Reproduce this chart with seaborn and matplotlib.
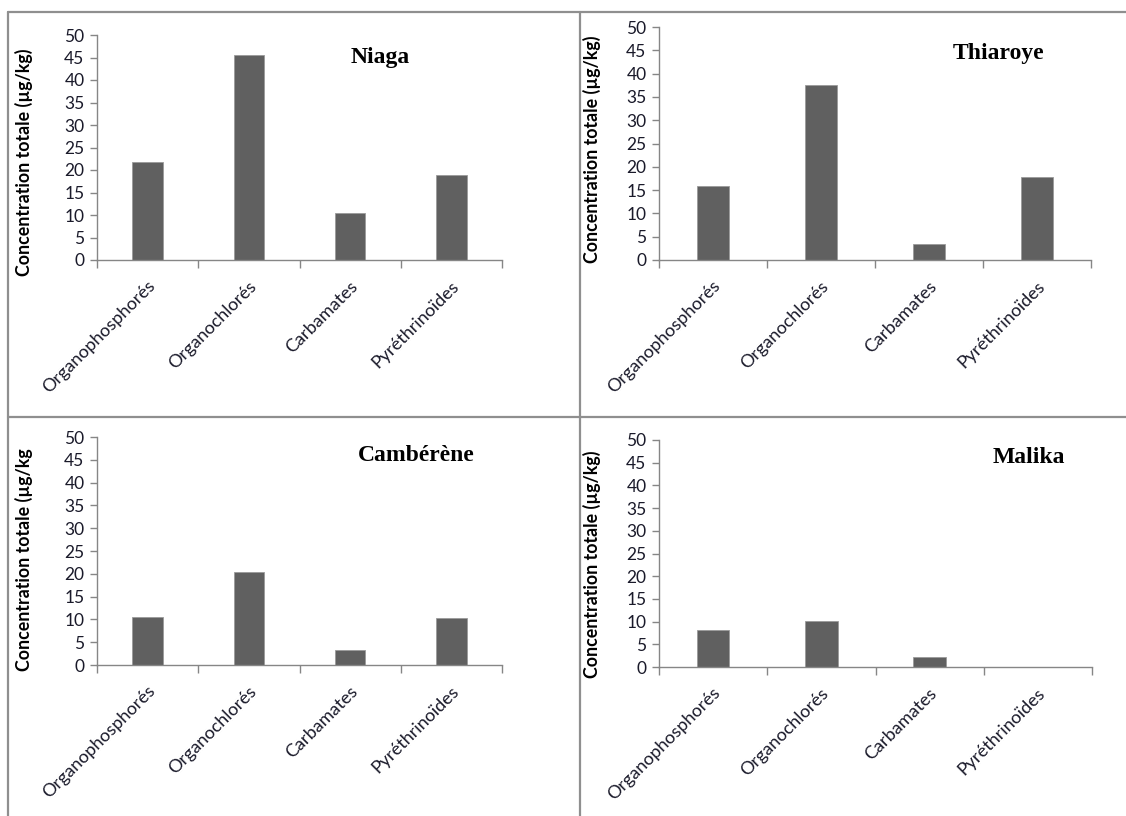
import matplotlib
matplotlib.use("Agg")
import matplotlib.pyplot as plt
import matplotlib.transforms as mtrans
import seaborn as sns
import pandas as pd
from matplotlib.lines import Line2D
from matplotlib.ticker import FixedLocator, NullFormatter

categories = ["Organophosphorés", "Organochlorés", "Carbamates", "Pyréthrinoïdes"]
niaga = [21.7, 45.6, 10.5, 19.0]
thiaroye = [15.9, 37.6, 3.5, 17.8]
camberene = [10.5, 20.5, 3.2, 10.2]
malika = [8.1, 10.1, 2.1, 0.0]
sites = ["Niaga", "Thiaroye", "Cambérène", "Malika"]
ylabels = ["Concentration totale (µg/kg)", "Concentration totale (µg/kg)",
           "Concentration totale (µg/kg", "Concentration totale (µg/kg)"]
yticks = [0, 5, 10, 15, 20, 25, 30, 35, 40, 45, 50]

sns.set_theme(style="white")
plt.rcParams['font.family'] = ['Lato', 'DejaVu Sans']

W, H = 1126, 816
fig = plt.figure(figsize=(W / 100, H / 100), dpi=100)

# axes rectangles in pixel coordinates (left, top, right, bottom)
rects = [(97, 35, 502, 260), (659, 27, 1091, 260), (97, 437, 502, 665), (659, 440, 1092, 667)]
title_pos = [(0.70, 0.898), (0.785, 0.888), (0.788, 0.92), (0.855, 0.925)]
ylab_pos = [(-0.158, 0.436), (-0.134, 0.476), (-0.158, 0.46), (-0.134, 0.454)]
series = [niaga, thiaroye, camberene, malika]

axis_grey = "#868686"
bar_col = "#606060"

for i, (vals, rect) in enumerate(zip(series, rects)):
    l, t, r, b = rect
    ax = fig.add_axes([l / W, 1 - b / H, (r - l) / W, (b - t) / H])
    df = pd.DataFrame({"cat": categories, "val": vals})
    sns.barplot(data=df, x="cat", y="val", color=bar_col, saturation=1, width=0.3,
                ax=ax, edgecolor="#9a9a9a", linewidth=0.6)
    ax.set_xlim(-0.5, 3.5)
    ax.set_ylim(0, 50)
    ax.set_yticks(yticks)
    ax.set_yticklabels([str(v) for v in yticks], fontsize=12.5, color="#1a1a2a")
    for s in ["top", "right"]:
        ax.spines[s].set_visible(False)
    for s in ["left", "bottom"]:
        ax.spines[s].set_color(axis_grey)
        ax.spines[s].set_linewidth(1.0)
    ax.tick_params(axis="y", which="major", direction="out", length=5, width=1,
                   color=axis_grey, left=True, pad=4)
    # category ticks between categories
    ax.xaxis.set_minor_locator(FixedLocator([-0.5, 0.5, 1.5, 2.5, 3.5]))
    ax.xaxis.set_minor_formatter(NullFormatter())
    ax.tick_params(axis="x", which="minor", direction="out", length=6, width=1,
                   color=axis_grey, bottom=True)
    ax.tick_params(axis="x", which="major", length=0, pad=17)
    ax.set_xticks(range(len(categories)))
    ax.set_xticklabels(categories, rotation=45, ha="right", va="center",
                       rotation_mode="anchor", fontsize=13.0, color="#1a1a2a")
    off = mtrans.ScaledTranslation(5 / 100, 0, fig.dpi_scale_trans)
    for lab in ax.get_xticklabels():
        lab.set_transform(lab.get_transform() + off)
    ax.set_xlabel("")
    ax.set_ylabel(ylabels[i], fontsize=12.8, fontweight="bold", color="black")
    ax.yaxis.set_label_coords(*ylab_pos[i])
    ax.text(title_pos[i][0], title_pos[i][1], sites[i], transform=ax.transAxes,
            ha="center", va="center", fontsize=17, fontweight="bold",
            family="Liberation Serif", color="black")

# panel frame lines
lc = "#8f8f8f"
lw = 1.6
def hline(y, x0, x1):
    fig.add_artist(Line2D([x0 / W, x1 / W], [1 - y / H, 1 - y / H], color=lc, lw=lw))
def vline(x, y0, y1):
    fig.add_artist(Line2D([x / W, x / W], [1 - y0 / H, 1 - y1 / H], color=lc, lw=lw))

hline(12, 8, W)
hline(417, 8, W)
vline(8, 12, H)
vline(580, 12, H)

fig.savefig("out.png", dpi=100, facecolor="white")
